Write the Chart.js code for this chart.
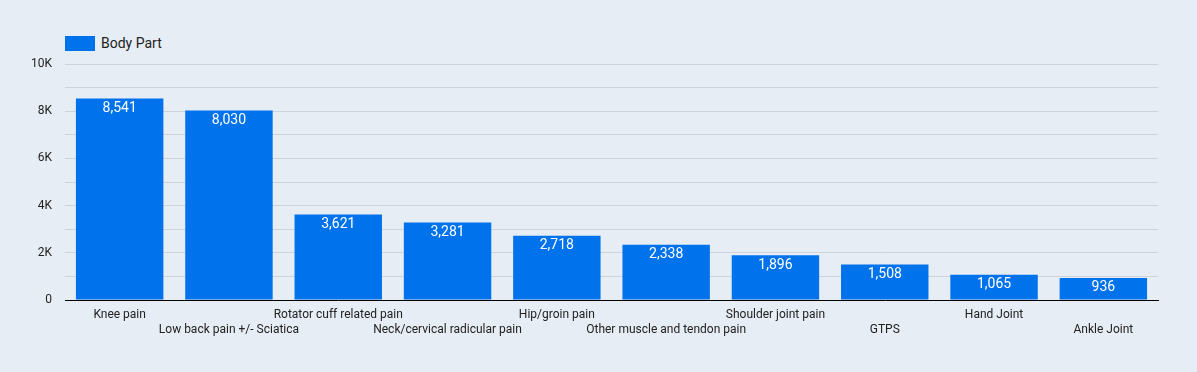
<!DOCTYPE html>
<html>
<head>
<meta charset="utf-8">
<script src="https://cdn.jsdelivr.net/npm/chart.js@4/dist/chart.umd.min.js"></script>
<style>
    html, body { margin: 0; padding: 0; background: #e6edf5; }
    .wrap { position: relative; width: 1197px; height: 372px; background: #e6edf5; font-family: Roboto, sans-serif; }
    .legend { position: absolute; left: 65px; top: 35px; display: flex; align-items: center; gap: 6px; font-size: 14px; color: #222; }
    .legend span.box { display: inline-block; width: 30px; height: 15px; background: #0073ec; }
    canvas { position: absolute; left: 0; top: 0; }
</style>
</head>
<body>
<div class="wrap">
    <div class="legend"><span class="box"></span><span>Body Part</span></div>
    <canvas id="chart-body-part" width="1197" height="372"></canvas>
</div>
<script>
const categories = [
    'Knee pain', 'Low back pain +/- Sciatica', 'Rotator cuff related pain',
    'Neck/cervical radicular pain', 'Hip/groin pain', 'Other muscle and tendon pain',
    'Shoulder joint pain', 'GTPS', 'Hand Joint', 'Ankle Joint'
];
const counts = [8541, 8030, 3621, 3281, 2718, 2338, 1896, 1508, 1065, 936];
const yTickLabels = { 0: '0', 2000: '2K', 4000: '4K', 6000: '6K', 8000: '8K', 10000: '10K' };

// alternate labels between two rows so they don't overlap
const xLabels = categories.map((c, i) => i % 2 === 0 ? [c] : ['', c]);

const barValues = {
    id: 'barValues',
    afterDatasetsDraw(chart) {
        const ctx = chart.ctx;
        const meta = chart.getDatasetMeta(0);
        ctx.save();
        ctx.font = '14px Roboto, sans-serif';
        ctx.fillStyle = '#ffffff';
        ctx.textAlign = 'center';
        ctx.textBaseline = 'top';
        meta.data.forEach((bar, i) => {
            ctx.fillText(counts[i].toLocaleString('en-US'), bar.x, bar.y + 3);
        });
        ctx.restore();
    }
};

new Chart(document.getElementById('chart-body-part').getContext('2d'), {
    type: 'bar',
    data: {
        labels: xLabels,
        datasets: [{
            label: 'Body Part',
            data: counts,
            backgroundColor: '#0073ec',
            borderWidth: 0,
            categoryPercentage: 0.8,
            barPercentage: 1.0
        }]
    },
    options: {
        responsive: false,
        animation: false,
        layout: { padding: { top: 64, right: 39, left: 0, bottom: 0 } },
        plugins: {
            legend: { display: false },
            tooltip: { enabled: false }
        },
        scales: {
            x: {
                grid: { display: false, drawTicks: false },
                border: { display: true, color: '#000000', width: 1 },
                ticks: {
                    color: '#222',
                    font: { family: 'Roboto', size: 12 },
                    autoSkip: false,
                    maxRotation: 0,
                    padding: 8
                },
                afterFit(axis) { axis.height = 72; }
            },
            y: {
                min: 0,
                max: 10000,
                grid: { color: '#cfd2d6', drawTicks: false },
                border: { display: false },
                ticks: {
                    stepSize: 1000,
                    color: '#222',
                    font: { family: 'Roboto', size: 12 },
                    padding: 13,
                    callback: v => yTickLabels[v] !== undefined ? yTickLabels[v] : ''
                },
                afterFit(axis) { axis.width = 65; }
            }
        }
    },
    plugins: [barValues]
});
</script>
</body>
</html>
